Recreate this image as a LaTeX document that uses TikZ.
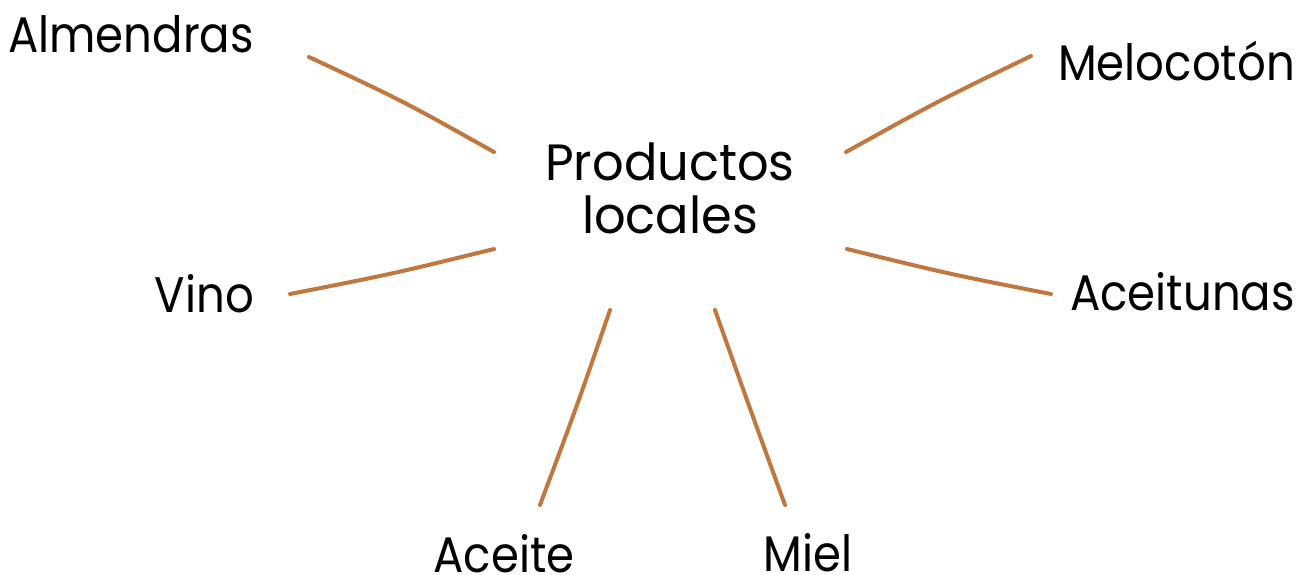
\documentclass[tikz,border=0pt]{standalone}
\usepackage{fontspec}
\setmainfont{Poppins}[FakeStretch=0.9]
\newfontfamily\centerfont{Poppins}[FakeStretch=0.97]
\definecolor{linkc}{RGB}{192,120,64}
\begin{document}
\begin{tikzpicture}[x=1pt,y=-1pt,
  lbl/.style={inner sep=0pt,font=\fontsize{50}{52}\selectfont,text=black},
  hub/.style={inner sep=0pt,font=\centerfont\fontsize{51}{52}\selectfont,text=black},
  link/.style={draw=linkc,line width=4pt,line cap=round}]
\useasboundingbox (0,0) rectangle (1311,574);
% labels
\node[hub,anchor=base] (prod) at (670,180) {\begin{tabular}[t]{@{}c@{}}Productos\\locales\end{tabular}};
\node[lbl,anchor=base east] (alm) at (254,52) {Almendras};
\node[lbl,anchor=base east] (vino) at (254,312) {Vino};
\node[lbl,anchor=base east] (melo) at (1295,80) {Melocotón};
\node[lbl,anchor=base east] (acei) at (1295,310) {Aceitunas};
\node[lbl,anchor=base] (aceite) at (504,572) {Aceite};
\node[lbl,anchor=base] (miel) at (808,571) {Miel};
% connector end points
\coordinate (pA) at (494,152);
\coordinate (pV) at (494,249);
\coordinate (pM) at (846,152);
\coordinate (pT) at (847,249);
\coordinate (pC) at (610,310);
\coordinate (pI) at (715,310);
\coordinate (eA) at (309,57);
\coordinate (eV) at (290,294);
\coordinate (eM) at (1031,56);
\coordinate (eT) at (1051,294);
\coordinate (eC) at (540,505);
\coordinate (eI) at (785,505);
% connectors
\draw[link] (pA) .. controls (403,101) .. (eA);
\draw[link] (pM) .. controls (938,101) .. (eM);
\draw[link] (pV) .. controls (392,274) .. (eV);
\draw[link] (pT) .. controls (949,274) .. (eT);
\draw[link] (pC) .. controls (577,406) .. (eC);
\draw[link] (pI) .. controls (749,406) .. (eI);
\end{tikzpicture}
\end{document}
